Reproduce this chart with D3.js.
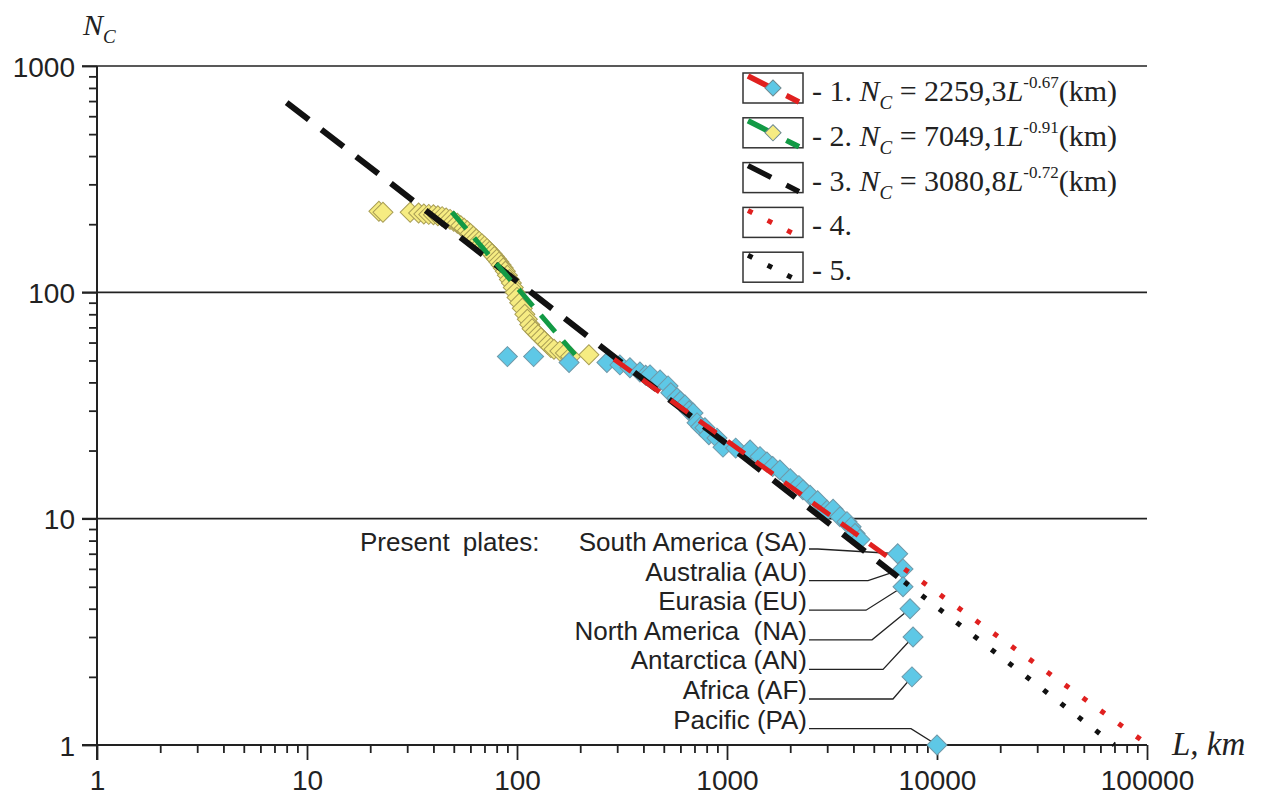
<!DOCTYPE html>
<html>
<head>
<meta charset="utf-8">
<script src="https://cdn.jsdelivr.net/npm/d3@7"></script>
<style>
  body { margin: 0; background: #fff; }
  svg { display: block; }
  .tick text { font-family: "Liberation Sans", Arial, sans-serif; font-size: 28px; fill: #222; }
</style>
</head>
<body>
<svg id="chart" width="1263" height="799"></svg>
<script>
// ---- data ----
const yellowL = [22, 23, 31, 34, 36, 38, 40, 42, 44, 46, 48, 50, 52, 54, 56, 58, 60, 62, 64, 66,
                 68, 70, 72, 74, 76, 78, 80, 82, 84, 86, 88, 90, 92, 94, 96, 98, 100, 103, 106, 109,
                 112, 115, 118, 122, 126, 130, 135, 140, 145, 150, 160, 170, 180, 220];
const yellowN = [228, 226, 226, 224, 222, 221, 220, 218, 216, 213, 210, 206, 202, 197, 192, 187, 182, 177, 172, 168,
                 164, 160, 156, 152, 148, 144, 140, 136, 132, 128, 124, 119, 114, 110, 105, 100, 95, 90, 85, 80,
                 76, 72, 69, 67, 65, 63, 61, 59, 57, 56, 55, 54, 52, 53];

const blueL = [90, 120, 177, 268, 309, 345, 385, 410, 430, 480, 524, 540, 578, 600, 631, 660, 689, 720, 750, 785,
               820, 896, 957, 1100, 1288, 1436, 1549, 1650, 1786, 2000, 2200, 2300, 2485, 2700, 2994, 3200, 3453,
               3726, 3900, 4072, 4296];
const blueN = [52, 52, 49, 49, 47.8, 46.4, 44.5, 43, 43.2, 41, 38.6, 36, 34.2, 33, 31.8, 30, 29.3, 26.5, 25.5, 25.2,
               23.5, 22.7, 20.7, 20.5, 20.1, 18.8, 17.8, 17, 16.4, 15, 14, 13.4, 12.7, 12, 10.9, 11, 10.2,
               9.7, 9.2, 8.6, 8.1];

// present plates
const plateNames = ["South America (SA)", "Australia (AU)", "Eurasia (EU)", "North America  (NA)",
                    "Antarctica (AN)", "Africa (AF)", "Pacific (PA)"];
const plateL = [6500, 6890, 6890, 7440, 7690, 7600, 10000];
const plateN = [7, 6, 5, 4, 3, 2, 1];

// fits N = a * L^b (legend text)
const fitA = [2259.3, 7049.1, 3080.8];
const fitB = [-0.67, -0.91, -0.72];
const fitText = ["2259,3", "7049,1", "3080,8"];
const fitPow = ["-0.67", "-0.91", "-0.72"];
// fit 2 as it is drawn in the picture (end points)
const greenL = [49, 189];
const greenN = [226, 53];

const xTickLabels = ["1", "10", "100", "1000", "10000", "100000"];
const yTickLabels = ["1", "10", "100", "1000"];

// ---- layout ----
const svg = d3.select("#chart");
const x = d3.scaleLog().domain([1, 1e5]).range([97, 1147]);
const y = d3.scaleLog().domain([1, 1000]).range([745, 66]);
const INK = "#222";
const RED = "#e0201f", GREEN = "#129a45", BLACK = "#111";
const BLUE = "#5ec8e6", YELLOW = "#f6ec82";

const majorX = xTickLabels.map(Number);
const majorY = yTickLabels.map(Number);
const minorX = x.ticks().filter(t => !majorX.includes(t));
const minorY = y.ticks().filter(t => !majorY.includes(t));

// gridlines at 10, 100, 1000
svg.append("g").selectAll("line")
  .data(majorY.slice(1))
  .join("line")
  .attr("x1", 82).attr("x2", x(1e5))
  .attr("y1", d => y(d)).attr("y2", d => y(d))
  .attr("stroke", INK).attr("stroke-width", 1.6);

// x axis
const gx = svg.append("g").attr("transform", `translate(0,${y(1)})`);
gx.append("g").call(d3.axisBottom(x).tickValues(minorX).tickSizeInner(8).tickSizeOuter(0).tickFormat(""));
gx.append("g").call(d3.axisBottom(x).tickValues(majorX).tickSizeInner(15).tickSizeOuter(0)
  .tickPadding(10).tickFormat((d, i) => xTickLabels[i]));
gx.selectAll(".domain").remove();
gx.append("line").attr("x1", 82).attr("x2", x(1e5)).attr("stroke", INK).attr("stroke-width", 2);

// y axis
const gy = svg.append("g").attr("transform", `translate(${x(1)},0)`);
gy.append("g").call(d3.axisLeft(y).tickValues(minorY).tickSizeInner(8).tickSizeOuter(0).tickFormat(""));
gy.append("g").call(d3.axisLeft(y).tickValues(majorY).tickSizeInner(15).tickSizeOuter(0)
  .tickPadding(7).tickFormat((d, i) => yTickLabels[i]));
gy.selectAll(".domain").remove();
gy.append("line").attr("y1", y(1000)).attr("y2", y(1) + 15).attr("stroke", INK).attr("stroke-width", 2);
svg.selectAll(".tick line").attr("stroke", INK).attr("stroke-width", 1.8);
gy.selectAll(".tick text").attr("dy", "0.36em");

// axis titles
const serif = "'Liberation Serif', 'Times New Roman', serif";
const yt = svg.append("text").attr("x", 83).attr("y", 35)
  .attr("font-family", serif).attr("font-style", "italic").attr("font-size", 30).attr("fill", INK);
yt.append("tspan").text("N");
yt.append("tspan").attr("font-size", 19).attr("dy", 8).text("C");
svg.append("text").attr("x", 1172).attr("y", 755)
  .attr("font-family", serif).attr("font-style", "italic").attr("font-size", 33).attr("fill", INK)
  .text("L, km");

// ---- plate labels and leader lines ----
const sans = "'Liberation Sans', Arial, sans-serif";
const labelRight = 807;
const rowY = i => 551 + i * 29.6;
const elbowDx = [80, 35, 37, 38, 30, 19, 26];
svg.append("text").attr("x", 360).attr("y", rowY(0))
  .attr("font-family", sans).attr("font-size", 26).attr("fill", INK)
  .attr("word-spacing", 6).text("Present plates:");
svg.append("g").selectAll("text")
  .data(plateNames)
  .join("text")
  .attr("x", labelRight).attr("y", (d, i) => rowY(i))
  .attr("text-anchor", "end")
  .attr("font-family", sans).attr("font-size", 26).attr("fill", INK)
  .style("white-space", "pre")
  .text(d => d);
svg.append("g").selectAll("path")
  .data(plateNames)
  .join("path")
  .attr("d", (d, i) => {
    const px = x(plateL[i]), py = y(plateN[i]);
    const r = i === 0 ? rowY(i) - 2 : rowY(i);
    return `M${labelRight + 2},${r}L${px - elbowDx[i]},${r}L${px},${py}`;
  })
  .attr("fill", "none").attr("stroke", INK).attr("stroke-width", 1.3);

// ---- points ----
const diamond = d3.symbol().type(d3.symbolSquare).size(200);
function drawPoints(Ls, Ns, fill, stroke) {
  svg.append("g").selectAll("path")
    .data(Ls.map((L, i) => [L, Ns[i]]))
    .join("path")
    .attr("d", diamond)
    .attr("transform", d => `translate(${x(d[0])},${y(d[1])}) rotate(45)`)
    .attr("fill", fill).attr("stroke", stroke).attr("stroke-width", 1);
}
drawPoints(yellowL, yellowN, YELLOW, "#a99e55");
drawPoints(blueL, blueN, BLUE, "#6f98a8");
drawPoints(plateL, plateN, BLUE, "#6f98a8");

// ---- fitted lines ----
const fitLine = d3.line().x(d => x(d[0])).y(d => y(d[1]));
function drawPath(pts, color, width, dash) {
  svg.append("path").attr("d", fitLine(pts))
    .attr("fill", "none").attr("stroke", color).attr("stroke-width", width)
    .attr("stroke-dasharray", dash);
}
const fitPts = (k, L0, L1) => [L0, L1].map(L => [L, fitA[k] * Math.pow(L, fitB[k])]);
drawPath(fitPts(2, 8, 6500), BLACK, 6, "28,16");
drawPath(greenL.map((L, i) => [L, greenN[i]]), GREEN, 5, "22,12");
drawPath(fitPts(0, 290, 6500), RED, 5, "21,14");
drawPath(fitPts(0, 7000, 1e5), RED, 5, "5,17");
drawPath(fitPts(2, 7000, 7e4), BLACK, 5, "5,17");

// ---- legend ----
const legColor = [RED, GREEN, BLACK, RED, BLACK];
const legMarker = [BLUE, YELLOW, null, null, null];
const legDotted = [false, false, false, true, true];
const legBox = { x: 743, y: 73, w: 60, h: 30, step: 44.8 };
const leg = svg.append("g");
legColor.forEach((c, i) => {
  const by = legBox.y + i * legBox.step, bx = legBox.x;
  const g = leg.append("g");
  g.append("rect").attr("x", bx).attr("y", by).attr("width", legBox.w).attr("height", legBox.h)
    .attr("fill", "#fff").attr("stroke", "#333").attr("stroke-width", 1.5);
  g.append("path").attr("d", `M${bx + 5},${by + 3}L${bx + 56},${by + 29}`)
    .attr("fill", "none").attr("stroke", c).attr("stroke-width", legDotted[i] ? 5 : 5.5)
    .attr("stroke-dasharray", legDotted[i] ? "5,17" : "26,17");
  if (legMarker[i]) {
    g.append("path").attr("d", d3.symbol().type(d3.symbolSquare).size(130))
      .attr("transform", `translate(${bx + 30},${by + 15}) rotate(45)`)
      .attr("fill", legMarker[i]).attr("stroke", "#6f8a90").attr("stroke-width", 1);
  }
  const t = g.append("text").attr("x", 812).attr("y", by + 28)
    .attr("font-family", serif).attr("font-size", 30).attr("fill", INK);
  t.append("tspan").text(`- ${i + 1}.`);
  if (i < 3) {
    t.append("tspan").attr("font-style", "italic").text(" N");
    t.append("tspan").attr("font-style", "italic").attr("font-size", 19).attr("dy", 8).text("C");
    t.append("tspan").attr("dy", -8).text(` = ${fitText[i]}`);
    t.append("tspan").attr("font-style", "italic").text("L");
    t.append("tspan").attr("font-size", 17).attr("dy", -13).text(fitPow[i]);
    t.append("tspan").attr("dy", 13).text("(km)");
  }
});
</script>
</body>
</html>
